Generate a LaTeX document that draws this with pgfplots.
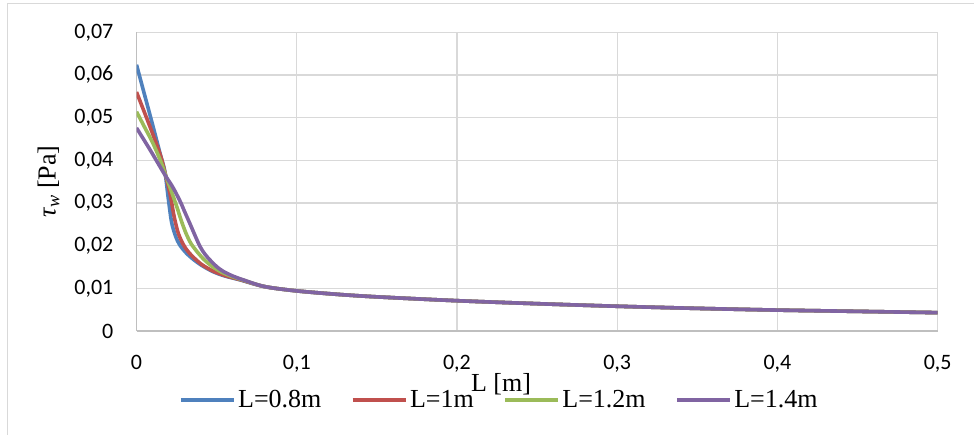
\documentclass[border=0pt]{standalone}
\usepackage{pgfplots}
\pgfplotsset{compat=1.18}
\usepackage{fontspec}
\setmainfont{Liberation Serif}
\newfontfamily\calibri{Carlito}
\newcommand\tickfont{\calibri\fontsize{22bp}{26bp}\selectfont}
\newcommand\labfont{\fontsize{26bp}{30bp}\selectfont}
\definecolor{cblue}{HTML}{4F81BD}
\definecolor{cred}{HTML}{C0504D}
\definecolor{cgreen}{HTML}{9BBB59}
\definecolor{cpurple}{HTML}{8064A2}
\definecolor{gridc}{HTML}{D9D9D9}
\definecolor{axisc}{HTML}{BFBFBF}
\pgfplotsset{mycurve/.style={smooth, line width=3.6bp, line join=round}}
\begin{document}
\begin{tikzpicture}
\useasboundingbox (-136.5bp,-104bp) rectangle (837.5bp,331bp);
\draw[gridc, line width=1.2bp] (-129bp,-104bp) -- (-129bp,327.5bp) -- (837.5bp,327.5bp);
\begin{axis}[
  at={(0,0)}, anchor=south west,
  scale only axis, width=801.2bp, height=298.7bp,
  xmin=0, xmax=0.5, ymin=0, ymax=0.07,
  xtick={0,0.1,0.2,0.3,0.4,0.5},
  ytick={0,0.01,0.02,0.03,0.04,0.05,0.06,0.07},
  scaled ticks=false,
  /pgf/number format/.cd, use comma, fixed, precision=2, assume math mode=true,
  /pgfplots/.cd,
  grid=major,
  grid style={gridc, line width=1.4bp},
  axis x line*=bottom, axis y line*=left,
  axis line style={axisc, line width=1.6bp},
  major tick length=0pt,
  tick label style={font=\tickfont},
  xticklabel style={anchor=north, inner sep=0pt, yshift=-24bp},
  yticklabel style={anchor=east, inner sep=0pt, xshift=-23bp},
  legend columns=4,
  legend style={at={(axis description cs:0.4525,-0.231)}, anchor=center,
    draw=none, fill=none, font=\labfont, inner sep=0pt,
    nodes={inner sep=1.5bp},
    /tikz/every odd column/.append style={column sep=1bp},
    /tikz/every even column/.append style={column sep=28bp}},
  legend image code/.code={\draw[#1] (0bp,0bp) -- (53bp,0bp);},
]
\addplot[cblue, mycurve] coordinates {
(0,0.0624) (0.005,0.0554) (0.010,0.0484) (0.015,0.0412) (0.0177,0.0374)
(0.0198,0.0312) (0.0219,0.0255) (0.0245,0.0221) (0.0271,0.0201) (0.031,0.0183)
(0.0354,0.0168) (0.041,0.0153) (0.0478,0.0139) (0.055,0.0129) (0.0644,0.0120)
(0.08,0.0104) (0.1,0.0094) (0.125,0.0086) (0.15,0.0080) (0.2,0.0071)
(0.25,0.0064) (0.3,0.0058) (0.35,0.0053) (0.4,0.0049) (0.45,0.0046) (0.5,0.0043)};
\addlegendentry{L=0.8m}
\addplot[cred, mycurve] coordinates {
(0,0.0560) (0.005,0.0512) (0.010,0.0463) (0.015,0.0411) (0.0177,0.0372)
(0.021,0.0320) (0.0235,0.0268) (0.026,0.0230) (0.029,0.0204) (0.032,0.0187)
(0.036,0.0171) (0.041,0.0155) (0.048,0.0140) (0.056,0.0129) (0.065,0.0120)
(0.08,0.0104) (0.1,0.0094) (0.125,0.0086) (0.15,0.0080) (0.2,0.0071)
(0.25,0.0064) (0.3,0.0058) (0.35,0.0053) (0.4,0.0049) (0.45,0.0046) (0.5,0.0043)};
\addlegendentry{L=1m}
\addplot[cgreen, mycurve] coordinates {
(0,0.0514) (0.005,0.0478) (0.010,0.0442) (0.015,0.0399) (0.0177,0.0370)
(0.022,0.0325) (0.025,0.0293) (0.028,0.0258) (0.031,0.0228) (0.034,0.0205)
(0.038,0.0185) (0.042,0.0168) (0.047,0.0152) (0.053,0.0138) (0.060,0.0127)
(0.066,0.0120) (0.08,0.0104) (0.1,0.0094) (0.125,0.0086) (0.15,0.0080) (0.2,0.0071)
(0.25,0.0064) (0.3,0.0058) (0.35,0.0053) (0.4,0.0049) (0.45,0.0046) (0.5,0.0043)};
\addlegendentry{L=1.2m}
\addplot[cpurple, mycurve] coordinates {
(0,0.0476) (0.0084,0.0425) (0.0177,0.0366) (0.0225,0.0338) (0.0271,0.0305)
(0.0300,0.0280) (0.0333,0.0252) (0.0365,0.0224) (0.0395,0.0199) (0.0425,0.0181)
(0.0457,0.0167) (0.050,0.0151) (0.054,0.0140) (0.060,0.0129) (0.0665,0.0120)
(0.08,0.0104) (0.1,0.0094) (0.125,0.0086) (0.15,0.0080) (0.2,0.0071)
(0.25,0.0064) (0.3,0.0058) (0.35,0.0053) (0.4,0.0049) (0.45,0.0046) (0.5,0.0043)};
\addlegendentry{L=1.4m}
\end{axis}
\node[inner sep=0pt, anchor=base] at (364.5bp,-60bp) {\labfont L [m]};
\node[rotate=90, inner sep=0pt, anchor=center] at (-88bp,149.35bp) {\labfont\textit{τ}\textsubscript{\textit{w}} [Pa]};
\end{tikzpicture}
\end{document}
